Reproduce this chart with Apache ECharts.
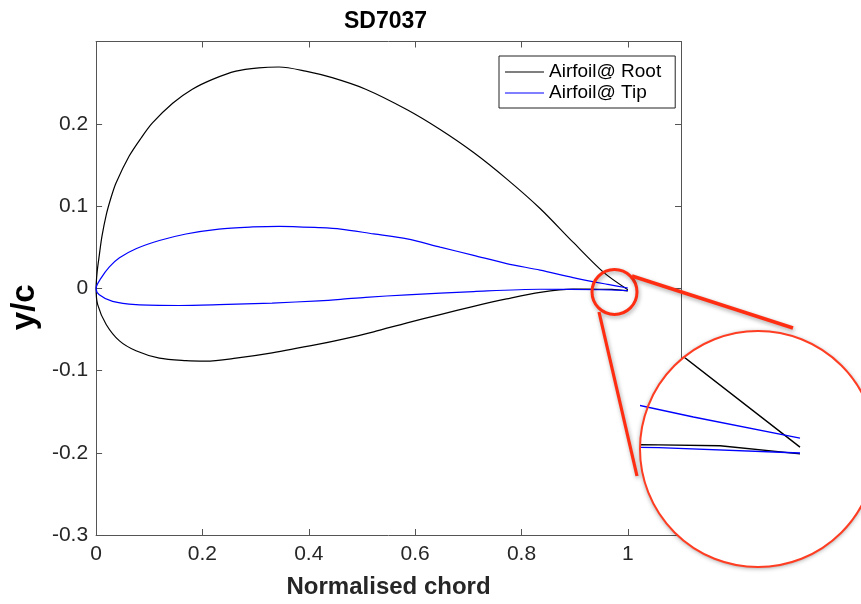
<!DOCTYPE html>
<html>
<head>
<meta charset="utf-8">
<script src="https://cdn.jsdelivr.net/npm/echarts@6/dist/echarts.min.js"></script>
<style>
html,body{margin:0;padding:0;background:#fff;overflow:hidden;}
#chart{width:861px;height:604px;}
</style>
</head>
<body>
<div id="chart"></div>
<script>
// ---------------- data ----------------
const chartTitle = 'SD7037';
const xAxisName = 'Normalised chord';
const yAxisName = 'y/c';
const seriesNames = ['Airfoil@ Root', 'Airfoil@ Tip'];
const seriesColors = ['#000000', '#0000ff'];

// Root airfoil (black) - upper surface, leading edge -> trailing edge
const rootUpperX = [0, 0.002, 0.006, 0.011, 0.019, 0.028, 0.0375, 0.0625, 0.085, 0.106, 0.144, 0.181, 0.219, 0.263, 0.306, 0.344, 0.394, 0.444, 0.507, 0.585, 0.647, 0.710, 0.772, 0.835, 0.897, 0.955, 1.0];
const rootUpperY = [0, 0.020, 0.040, 0.063, 0.089, 0.110, 0.128, 0.161, 0.183, 0.201, 0.225, 0.242, 0.254, 0.264, 0.268, 0.269, 0.264, 0.256, 0.242, 0.217, 0.193, 0.165, 0.133, 0.097, 0.056, 0.019, -0.0017];
// Root airfoil - lower surface, leading edge -> trailing edge
const rootLowerX = [0, 0.003, 0.019, 0.044, 0.075, 0.119, 0.169, 0.206, 0.263, 0.331, 0.419, 0.460, 0.522, 0.585, 0.647, 0.710, 0.772, 0.835, 0.897, 0.947, 0.970, 1.0];
const rootLowerY = [0, -0.020, -0.044, -0.064, -0.076, -0.085, -0.088, -0.0886, -0.085, -0.0785, -0.068, -0.0625, -0.053, -0.042, -0.032, -0.022, -0.013, -0.005, -0.001, -0.0012, -0.0014, -0.0032];

// Tip airfoil (blue) - upper surface
const tipUpperX = [0, 0.009, 0.025, 0.044, 0.075, 0.119, 0.169, 0.231, 0.294, 0.344, 0.419, 0.460, 0.522, 0.585, 0.647, 0.710, 0.772, 0.835, 0.897, 0.960, 1.0];
const tipUpperY = [0, 0.012, 0.026, 0.037, 0.048, 0.058, 0.066, 0.072, 0.0745, 0.0753, 0.0737, 0.072, 0.066, 0.060, 0.050, 0.040, 0.030, 0.022, 0.013, 0.005, 0.0003];
// Tip airfoil - lower surface
const tipLowerX = [0, 0.006, 0.031, 0.075, 0.156, 0.231, 0.331, 0.419, 0.460, 0.507, 0.585, 0.710, 0.835, 0.947, 1.0];
const tipLowerY = [0, -0.008, -0.016, -0.020, -0.021, -0.020, -0.018, -0.0153, -0.0135, -0.011, -0.008, -0.004, -0.0012, -0.0018, -0.003];

// axis ranges
const xMin = 0, xMax = 1.1, xStep = 0.2;
const yMin = -0.3, yMax = 0.3, yStep = 0.1;
// zoomed (inset) view ranges around the trailing edge
const zoomXRange = [0.94034, 1.02289];
const zoomYRange = [-0.00678, 0.01811];

// ---------------- build ----------------
function outline(ux, uy, lx, ly) {
  const pts = [];
  for (let i = ux.length - 1; i >= 0; i--) pts.push([ux[i], uy[i]]);
  for (let i = 1; i < lx.length; i++) pts.push([lx[i], ly[i]]);
  return pts;
}
const rootData = outline(rootUpperX, rootUpperY, rootLowerX, rootLowerY);
const tipData = outline(tipUpperX, tipUpperY, tipLowerX, tipLowerY);

const FONT = '"Liberation Sans", Arial, Helvetica, sans-serif';
const AX = '#555555';
const TXT = '#262626';
const RED = '#ff2e12';

const chart = echarts.init(document.getElementById('chart'), null, {renderer: 'canvas', width: 861, height: 604});

function mainSeries(name, data, color) {
  return {
    name: name, type: 'line', data: data,
    xAxisIndex: 0, yAxisIndex: 0,
    showSymbol: false, symbol: 'none', smooth: 0.3, clip: true,
    lineStyle: {color: color, width: 1.2},
    itemStyle: {color: color},
    animation: false, z: 3
  };
}
function insetSeries(name, data, color) {
  return {
    name: name + ' (zoom)', type: 'line', data: data,
    xAxisIndex: 2, yAxisIndex: 2,
    showSymbol: false, symbol: 'none', smooth: false, clip: true,
    lineStyle: {color: color, width: 1.4},
    itemStyle: {color: color},
    animation: false, z: 11, silent: true
  };
}
function frameAxisCommon() {
  return {
    axisLine: {show: true, onZero: false, lineStyle: {color: AX, width: 1}},
    axisTick: {show: true, inside: true, length: 6, lineStyle: {color: AX}},
    splitLine: {show: false}
  };
}

const option = {
  animation: false,
  backgroundColor: '#ffffff',
  textStyle: {fontFamily: FONT},
  title: {
    text: chartTitle, left: 344, top: 10, padding: 0,
    textStyle: {fontFamily: FONT, fontSize: 23, fontWeight: 'bold', color: '#000'}
  },
  legend: {
    data: seriesNames,
    orient: 'vertical', left: 499, top: 56,
    icon: 'rect', itemWidth: 39, itemHeight: 1.2, itemGap: 1,
    padding: [6, 14, 5, 6],
    borderColor: '#222', borderWidth: 1, backgroundColor: '#fff',
    textStyle: {fontFamily: FONT, fontSize: 19, color: '#000', lineHeight: 20},
    selectedMode: false
  },
  grid: [
    {left: 95, top: 41.5, width: 586, height: 497, containLabel: false},
    {left: 641, top: 358, width: 220, height: 112, containLabel: false}
  ],
  xAxis: [
    Object.assign(frameAxisCommon(), {
      type: 'value', gridIndex: 0, position: 'bottom',
      min: xMin, max: xMax, interval: xStep,
      axisLabel: {show: true, showMaxLabel: false, fontSize: 21, color: TXT, fontFamily: FONT, margin: 9,
        formatter: v => (v > 1.05 ? '' : String(+v.toFixed(1)))},
      name: xAxisName, nameLocation: 'middle', nameGap: 40,
      nameTextStyle: {fontFamily: FONT, fontSize: 24, fontWeight: 'bold', color: TXT}
    }),
    Object.assign(frameAxisCommon(), {
      type: 'value', gridIndex: 0, position: 'top',
      min: xMin, max: xMax, interval: xStep,
      axisLabel: {show: false}
    }),
    {
      type: 'value', gridIndex: 1, show: false,
      min: zoomXRange[0], max: zoomXRange[1],
      splitLine: {show: false}
    }
  ],
  yAxis: [
    Object.assign(frameAxisCommon(), {
      type: 'value', gridIndex: 0, position: 'left',
      min: yMin, max: yMax, interval: yStep,
      axisLabel: {show: true, showMaxLabel: false, fontSize: 21, color: TXT, fontFamily: FONT, margin: 8,
        formatter: v => (v > 0.25 ? '' : String(+v.toFixed(1)))},
      name: yAxisName, nameLocation: 'middle', nameRotate: 90, nameGap: 32,
      nameTextStyle: {fontFamily: FONT, fontSize: 33, fontWeight: 'bold', color: '#000', padding: [0, 38, 0, 0]}
    }),
    Object.assign(frameAxisCommon(), {
      type: 'value', gridIndex: 0, position: 'right',
      min: yMin, max: yMax, interval: yStep,
      axisLabel: {show: false}
    }),
    {
      type: 'value', gridIndex: 1, show: false,
      min: zoomYRange[0], max: zoomYRange[1],
      splitLine: {show: false}
    }
  ],
  series: [
    mainSeries(seriesNames[0], rootData, seriesColors[0]),
    mainSeries(seriesNames[1], tipData, seriesColors[1]),
    insetSeries(seriesNames[0], rootData, seriesColors[0]),
    insetSeries(seriesNames[1], tipData, seriesColors[1])
  ],
  graphic: {
    elements: [
      // white magnifier disc (under the zoomed lines)
      {type: 'circle', z: 10, silent: true,
        shape: {cx: 758, cy: 449, r: 118},
        style: {fill: '#ffffff', shadowBlur: 5, shadowColor: 'rgba(0,0,0,0.45)', shadowOffsetX: 0, shadowOffsetY: 1}},
      // red ring of the magnifier
      {type: 'circle', z: 12, silent: true,
        shape: {cx: 758, cy: 449, r: 118},
        style: {fill: null, stroke: '#ff3d22', lineWidth: 2}},
      // small red circle marking the zoomed region
      {type: 'circle', z: 12, silent: true,
        shape: {cx: 614.5, cy: 292, r: 22.5},
        style: {fill: null, stroke: RED, lineWidth: 3, shadowBlur: 4, shadowColor: 'rgba(0,0,0,0.35)', shadowOffsetX: 1, shadowOffsetY: 2}},
      // connector lines
      {type: 'line', z: 12, silent: true,
        shape: {x1: 632, y1: 276, x2: 793, y2: 328},
        style: {stroke: RED, lineWidth: 3.5, shadowBlur: 4, shadowColor: 'rgba(0,0,0,0.35)', shadowOffsetX: 1, shadowOffsetY: 2}},
      {type: 'line', z: 12, silent: true,
        shape: {x1: 599, y1: 312, x2: 637, y2: 476},
        style: {stroke: RED, lineWidth: 3.2, shadowBlur: 4, shadowColor: 'rgba(0,0,0,0.35)', shadowOffsetX: 1, shadowOffsetY: 2}}
    ]
  }
};

chart.setOption(option);
</script>
</body>
</html>
